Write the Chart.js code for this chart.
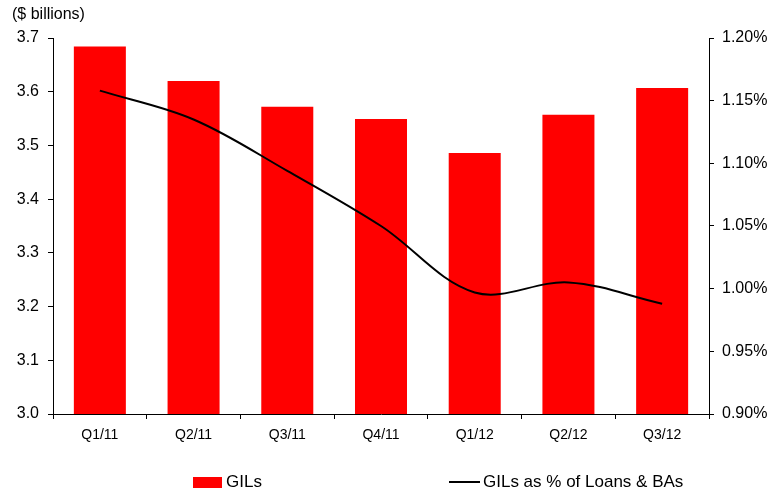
<!DOCTYPE html>
<html>
<head>
<meta charset="utf-8">
<script src="https://cdn.jsdelivr.net/npm/chart.js@4.4.1/dist/chart.umd.min.js"></script>
<style>
  html, body { margin: 0; padding: 0; background: #fff; }
  #wrap { position: relative; width: 774px; height: 495px; }
</style>
</head>
<body>
<div id="wrap"><canvas id="c" width="774" height="495"></canvas></div>
<script>
const categories = ["Q1/11", "Q2/11", "Q3/11", "Q4/11", "Q1/12", "Q2/12", "Q3/12"];
const gils = [3.684, 3.620, 3.572, 3.549, 3.486, 3.557, 3.607];
const gilsPct = [1.158, 1.135, 1.094, 1.050, 0.997, 1.005, 0.988];
const leftTicks = { min: 3.0, max: 3.7, step: 0.1 };
const rightTicks = { min: 0.90, max: 1.20, step: 0.05 };
const unitLabel = "($ billions)";
const barLabel = "GILs";
const lineLabel = "GILs as % of Loans & BAs";

const FONT = "'Liberation Sans', Arial, sans-serif";

const overlay = {
  id: 'overlay',
  afterDraw(chart) {
    const ctx = chart.ctx;
    ctx.save();
    ctx.fillStyle = '#000';
    ctx.font = '16px ' + FONT;
    ctx.textBaseline = 'middle';
    ctx.textAlign = 'left';
    ctx.fillText(unitLabel, 12, 15);
    // legend
    const ly = 482.5;
    ctx.fillStyle = '#ff0000';
    ctx.fillRect(193, 477, 29, 11);
    ctx.fillStyle = '#000';
    ctx.font = '17px ' + FONT;
    ctx.fillText(barLabel, 226, ly);
    ctx.strokeStyle = '#000';
    ctx.lineWidth = 2;
    ctx.beginPath();
    ctx.moveTo(449, 482);
    ctx.lineTo(480, 482);
    ctx.stroke();
    ctx.fillText(lineLabel, 483, ly);
    ctx.restore();
  }
};

new Chart(document.getElementById('c'), {
  data: {
    labels: categories,
    datasets: [
      {
        type: 'line',
        label: lineLabel,
        data: gilsPct,
        yAxisID: 'y1',
        borderColor: '#000',
        borderWidth: 2,
        pointRadius: 0,
        tension: 0.35,
        fill: false,
        order: 0
      },
      {
        type: 'bar',
        label: barLabel,
        data: gils,
        yAxisID: 'y',
        backgroundColor: '#ff0000',
        borderWidth: 0,
        categoryPercentage: 1.0,
        barPercentage: 0.555,
        order: 1
      }
    ]
  },
  options: {
    responsive: false,
    animation: false,
    layout: { padding: { top: 38, left: 0, right: 0, bottom: 0 } },
    plugins: { legend: { display: false }, tooltip: { enabled: false }, title: { display: false } },
    scales: {
      x: {
        grid: { offset: true, drawOnChartArea: false, drawTicks: true, tickLength: 5, color: '#000' },
        border: { display: true, color: '#000', width: 1 },
        ticks: { color: '#000', font: { family: FONT, size: 14 }, padding: 8, maxRotation: 0 },
        afterFit(s) { s.height = 81; }
      },
      y: {
        position: 'left',
        min: leftTicks.min, max: leftTicks.max,
        grid: { drawOnChartArea: false, tickLength: 5, color: '#000' },
        border: { display: true, color: '#000', width: 1 },
        ticks: { stepSize: leftTicks.step, color: '#000', font: { family: FONT, size: 16 }, padding: 9,
                 callback: v => Number(v).toFixed(1) },
        afterFit(s) { s.width = 53; }
      },
      y1: {
        position: 'right',
        min: rightTicks.min, max: rightTicks.max,
        grid: { drawOnChartArea: false, tickLength: 5, color: '#000' },
        border: { display: true, color: '#000', width: 1 },
        ticks: { stepSize: rightTicks.step, color: '#000', font: { family: FONT, size: 16 }, padding: 8,
                 callback: v => Number(v).toFixed(2) + '%' },
        afterFit(s) { s.width = 65; }
      }
    }
  },
  plugins: [overlay]
});
</script>
</body>
</html>
